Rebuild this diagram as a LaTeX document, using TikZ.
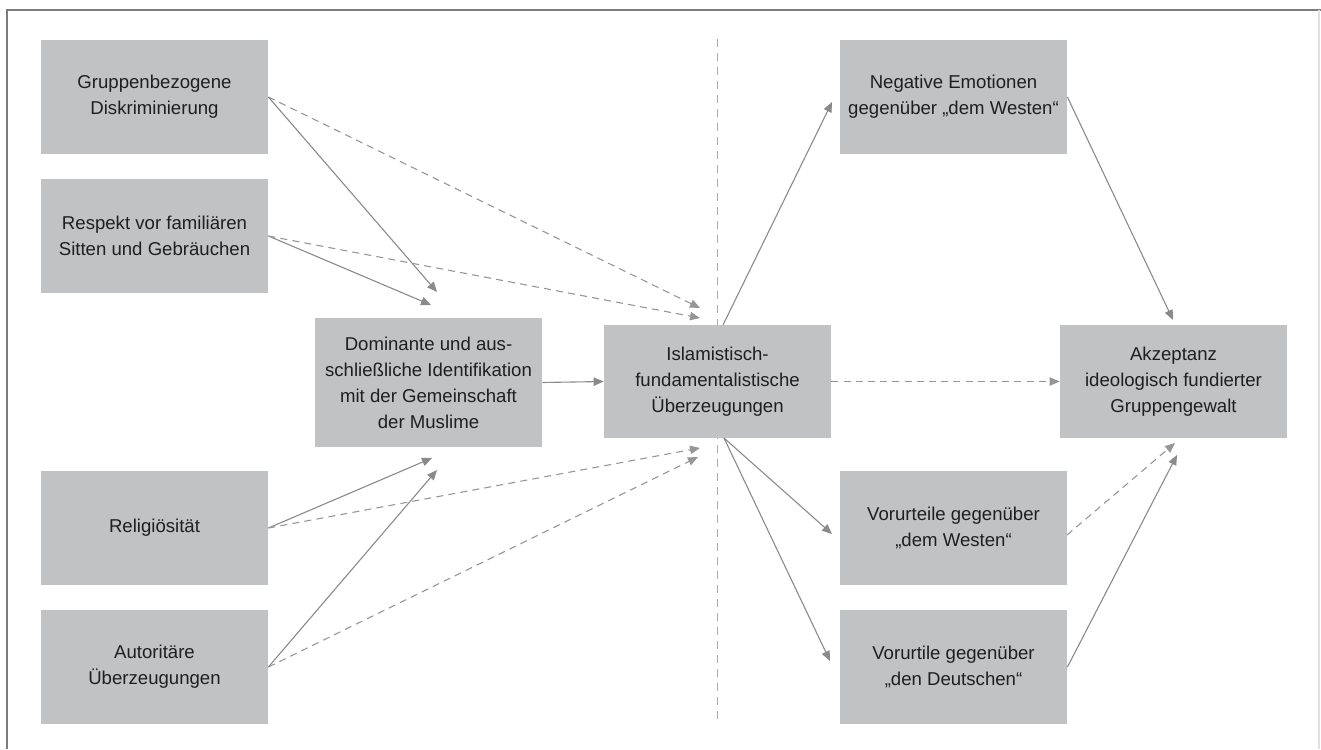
\documentclass[tikz,border=0pt]{standalone}
\usepackage{fontspec}
\setmainfont{Liberation Sans}
\usepackage{tikz}
\usetikzlibrary{arrows.meta, positioning, calc}
\definecolor{boxgray}{RGB}{193,194,196}
\definecolor{linegray}{RGB}{138,138,138}
\definecolor{dashgray}{RGB}{150,150,150}
\definecolor{framegray}{RGB}{125,125,125}

\begin{document}
\begin{tikzpicture}[x=0.5pt, y=-0.5pt, every node/.style={font=\fontsize{9.3pt}{13pt}\selectfont, text=black!88}]
\tikzstyle{taskb}=[rectangle, draw=none, fill=boxgray, minimum width=113.5pt, minimum height=57pt, inner sep=0pt, align=center]
\tikzstyle{arr}=[draw=linegray, line width=0.55pt, -{Triangle[length=5pt,width=4.2pt]}]
\tikzstyle{arrd}=[arr, draw=dashgray, dash pattern=on 3.5pt off 2.6pt]
%%
\useasboundingbox (0,0) rectangle (1321,749);
\draw[framegray, line width=0.6pt] (7,749) -- (7,10) -- (1321,10);
\draw[black!12, line width=0.6pt] (1319,10) -- (1319,749);
\draw[dashgray!80, line width=0.5pt, dash pattern=on 4pt off 3pt] (717,39) -- (717,725);

\node (l1) at (154.5,97) [taskb] {Gruppenbezogene\\Diskriminierung};
\node (l2) at (154.5,236) [taskb] {Respekt vor familiären\\Sitten und Gebräuchen};
\node (l3) at (154.5,528) [taskb] {Religiösität};
\node (l4) at (154.5,667) [taskb] {Autoritäre\\Überzeugungen};
\node (m1) at (428.5,382.5) [taskb, minimum height=64.5pt] {Dominante und aus-\\schließliche Identifikation\\mit der Gemeinschaft\\der Muslime};
\node (c1) at (717.5,381.5) [taskb, minimum height=56.5pt] {Islamistisch-\\fundamentalistische\\Überzeugungen};
\node (r1) at (953.5,97) [taskb] {Negative Emotionen\\gegenüber „dem Westen“};
\node (r2) at (953.5,528) [taskb] {Vorurteile gegenüber\\„dem Westen“};
\node (r3) at (953.5,667) [taskb] {Vorurtile gegenüber\\„den Deutschen“};
\node (e1) at (1173.5,381.5) [taskb, minimum height=56.5pt] {Akzeptanz\\ideologisch fundierter\\Gruppengewalt};

%% free arrow ends
\coordinate (m1a) at (437,292);
\coordinate (m1b) at (431,305);
\coordinate (m1c) at (432,458);
\coordinate (m1d) at (437,470);
\coordinate (c1a) at (700,308);
\coordinate (c1b) at (700,318);
\coordinate (c1c) at (700,448);
\coordinate (c1d) at (698,457);
\coordinate (c1n) at (723,325);
\coordinate (c1s) at (724,438);
\coordinate (r1w) at (832,102);
\coordinate (r2w) at (832,534);
\coordinate (r3w) at (830,661);
\coordinate (r2e) at (1067,535);
\coordinate (e1a) at (1173,320);
\coordinate (e1b) at (1175,443);
\coordinate (e1c) at (1177,455);

\draw [arr] (l1.east) -- (m1a);
\draw [arr] (l2.east) -- (m1b);
\draw [arr] (l3.east) -- (m1c);
\draw [arr] (l4.east) -- (m1d);
\draw [arrd] (l1.east) -- (c1a);
\draw [arrd] (l2.east) -- (c1b);
\draw [arrd] (l3.east) -- (c1c);
\draw [arrd] (l4.east) -- (c1d);

\draw [arr] (m1.east) -- (c1.west);
\draw [arrd] (c1.east) -- (e1.west);

\draw [arr] (c1n) -- (r1w);
\draw [arr] (c1s) -- (r2w);
\draw [arr] (c1s) -- (r3w);

\draw [arr] (r1.east) -- (e1a);
\draw [arrd] (r2e) -- (e1b);
\draw [arr] (r3.east) -- (e1c);
\end{tikzpicture}
\end{document}
